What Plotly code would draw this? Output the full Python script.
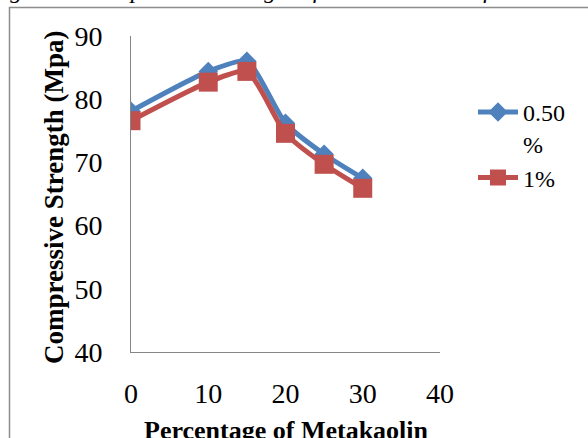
import plotly.graph_objects as go

# Compressive strength vs. metakaolin replacement for two fibre dosages
metakaolin_pct = [0, 10, 15, 20, 25, 30]
strength_050 = [78.1, 84.4, 86.0, 76.2, 71.3, 67.5]
strength_1 = [76.6, 82.7, 84.4, 74.6, 69.7, 65.9]
series_names = ["0.50<br>%", "1%"]

x_ticks = [0, 10, 20, 30, 40]
y_ticks = [40, 50, 60, 70, 80, 90]

W, H = 588, 438
L, R, T, B = 131, 148, 36, 86
pw, ph = W - L - R, H - T - B

def px_x(p):
    return (p - L) / pw

def px_y(p):
    return (H - B - p) / ph

SERIF = "Liberation Serif, Times New Roman, serif"
BLUE = "#4F81BD"
RED = "#C0504D"

fig = go.Figure()
fig.add_trace(go.Scatter(
    x=metakaolin_pct, y=strength_050, name=series_names[0],
    mode="lines+markers", line=dict(color=BLUE, width=5, shape="spline", smoothing=0.6),
    marker=dict(symbol="diamond", size=15, color=BLUE),
))
fig.add_trace(go.Scatter(
    x=metakaolin_pct, y=strength_1, name=series_names[1],
    mode="lines+markers", line=dict(color=RED, width=5, shape="spline", smoothing=0.6),
    marker=dict(symbol="square", size=19, color=RED),
))

axis_common = dict(
    showgrid=False, zeroline=False, showline=True, linecolor="#868686", linewidth=1,
    ticks="", tickfont=dict(family=SERIF, size=28, color="black"),
)
fig.update_xaxes(range=[0, 40], tickvals=x_ticks, ticklabelstandoff=16, **axis_common)
fig.update_yaxes(range=[40, 90], tickvals=y_ticks, ticklabelstandoff=22, **axis_common)

fig.update_layout(
    width=W, height=H,
    margin=dict(l=L, r=R, t=T, b=B, pad=0),
    paper_bgcolor="white", plot_bgcolor="white",
    font=dict(family=SERIF, color="black"),
    showlegend=True,
    legend=dict(
        x=px_x(473), y=px_y(90), xanchor="left", yanchor="top",
        font=dict(family=SERIF, size=24, color="black"),
        bgcolor="rgba(0,0,0,0)", itemwidth=40, tracegroupgap=0, valign="top",
    ),
    shapes=[
        # chart frame
        dict(type="rect", xref="paper", yref="paper",
             x0=px_x(9.5), x1=px_x(700), y0=px_y(600), y1=px_y(7.5),
             line=dict(color="#8c8c8c", width=1.5), layer="below"),
    ],
    annotations=[
        dict(text="<b>Compressive Strength (Mpa)</b>", xref="paper", yref="paper",
             x=px_x(54), y=px_y(198), textangle=-90, showarrow=False,
             font=dict(family=SERIF, size=27, color="black"),
             xanchor="center", yanchor="middle"),
        dict(text="<b>Percentage of Metakaolin</b>", xref="paper", yref="paper",
             x=px_x(286), y=px_y(430), showarrow=False,
             font=dict(family=SERIF, size=26, color="black"),
             xanchor="center", yanchor="middle"),
        dict(text="<i>Figure 1: Compression strength of concrete vs. % of Metakaolin</i>",
             xref="paper", yref="paper", x=px_x(-14), y=px_y(5), showarrow=False,
             font=dict(family=SERIF, size=24, color="black"),
             xanchor="left", yanchor="bottom"),
    ],
)

fig.write_html("out.html")
